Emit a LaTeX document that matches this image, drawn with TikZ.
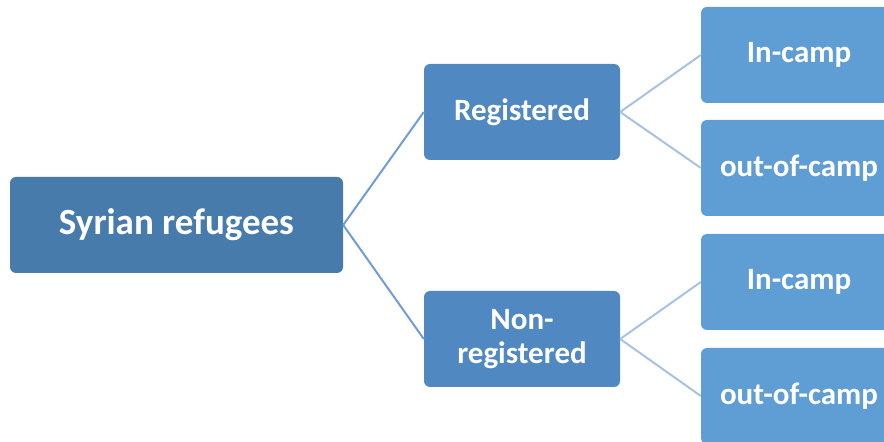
\documentclass[tikz,border=0pt]{standalone}
\usepackage{fontspec}
\setmainfont{Carlito}
\definecolor{rootblue}{RGB}{70,123,171}
\definecolor{midblue}{RGB}{80,137,193}
\definecolor{leafblue}{RGB}{95,157,213}
\definecolor{linkdark}{RGB}{110,158,212}
\definecolor{linklight}{RGB}{168,194,226}
\begin{document}
\begin{tikzpicture}[x=1pt,y=1pt,
    box/.style={rectangle, rounded corners=6pt, inner sep=0pt, text=white,
        font=\bfseries\fontsize{31}{34}\selectfont, align=center},
    rootbox/.style={box, fill=rootblue, minimum width=333pt, minimum height=96pt,
        font=\bfseries\fontsize{37}{40}\selectfont},
    midbox/.style={box, fill=midblue, minimum width=196pt, minimum height=96pt},
    leafbox/.style={box, fill=leafblue, minimum width=196pt, minimum height=96pt},
    link1/.style={draw=linkdark, line width=2pt},
    link2/.style={draw=linklight, line width=2pt}]
    \useasboundingbox (0,0) rectangle (884,442);
    \node (refugees) [rootbox] at (176.5, 217) {Syrian refugees};
    \node (reg) [midbox] at (522, 330) {Registered};
    \node (nonreg) [midbox] at (522, 103) {Non-\\registered};
    \node (regin) [leafbox] at (799, 387) {In-camp};
    \node (regout) [leafbox] at (799, 274) {out-of-camp};
    \node (nonin) [leafbox] at (799, 160) {In-camp};
    \node (nonout) [leafbox] at (799, 46) {out-of-camp};

    \draw[link1] (refugees.east) -- (reg.west);
    \draw[link1] (refugees.east) -- (nonreg.west);
    \draw[link2] (reg.east) -- (regin.west);
    \draw[link2] (reg.east) -- (regout.west);
    \draw[link2] (nonreg.east) -- (nonin.west);
    \draw[link2] (nonreg.east) -- (nonout.west);
\end{tikzpicture}
\end{document}
